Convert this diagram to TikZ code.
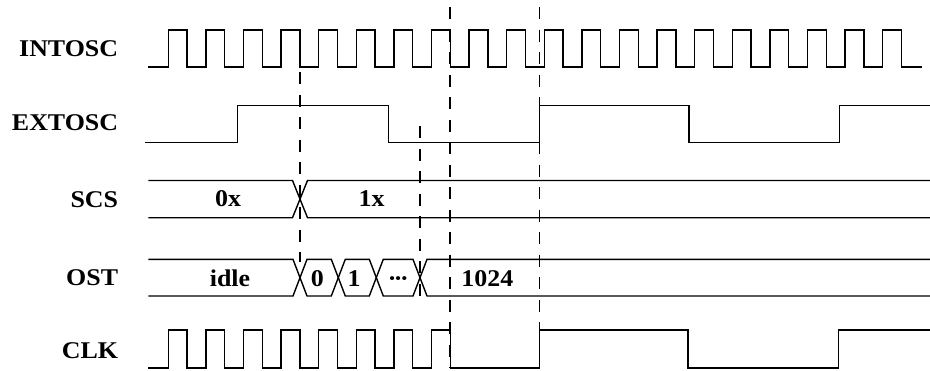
\documentclass[tikz,border=0pt]{standalone}
\usepackage{fontspec}
\setmainfont[FakeStretch=1.08]{Liberation Serif}
\begin{document}
\begin{tikzpicture}[x=1pt,y=-1pt,
  wave/.style={line width=1.4pt, line join=miter},
  guide/.style={line width=1.3pt, dash pattern=on 12pt off 10.5pt},
  sig/.style={anchor=base east, inner sep=0pt, font=\fontsize{24}{24}\selectfont\bfseries},
  val/.style={anchor=base, inner sep=0pt, font=\fontsize{24}{24}\selectfont\bfseries}]
\useasboundingbox (0,0) rectangle (930,370);
% signal names
\node[sig] (lintosc) at (118.3,56.7) {INTOSC};
\node[sig] (lextosc) at (118.3,130.7) {EXTOSC};
\node[sig] (lscs) at (118.3,207.3) {SCS};
\node[sig] (lost) at (118.3,285) {OST};
\node[sig] (lclk) at (118.3,358.3) {CLK};
% guides
\draw[guide] (300,72) -- (300,262);
\draw[guide] (450,7) -- (450,368);
\draw[guide] (539.3,7) -- (539.3,332);
\draw[guide] (420,126) -- (420,300);
% INTOSC
\draw[wave] (148.3,67) foreach \k in {0,...,19} {
  -- ({168.3+37.6*\k},67) -- ({168.3+37.6*\k},30)
  -- ({187.1+37.6*\k},30) -- ({187.1+37.6*\k},67) } -- (921.7,67);
% EXTOSC
\draw[wave] (145,142.7) -- (237.3,142.7) -- (237.3,105.3) -- (388.3,105.3)
  -- (388.3,142.7) -- (539.3,142.7) -- (539.3,105.3) -- (689,105.3)
  -- (689,142.7) -- (839.5,142.7) -- (839.5,105.3) -- (930,105.3);
% SCS
\draw[wave] (148.3,180.5) -- (292.5,180.5) -- (307.5,217.7) -- (930,217.7);
\draw[wave] (148.3,217.7) -- (292.5,217.7) -- (307.5,180.5) -- (930,180.5);
\node[val] (v0x) at (228,206.7) {0x};
\node[val] (v1x) at (371.7,206.7) {1x};
% OST
\draw[wave] (148.3,259.3) -- (293,259.3) -- (307,296) -- (331.3,296) -- (345.3,259.3)
  -- (369.3,259.3) -- (383.3,296) -- (413,296) -- (427,259.3) -- (930,259.3);
\draw[wave] (148.3,296) -- (293,296) -- (307,259.3) -- (331.3,259.3) -- (345.3,296)
  -- (369.3,296) -- (383.3,259.3) -- (413,259.3) -- (427,296) -- (930,296);
\node[val] (vidle) at (230,286.5) {idle};
\node[val] (vzero) at (317.3,286.5) {0};
\node[val] (vone) at (354,286.5) {1};
\node[val] (vdots) at (398.3,286.5) {·\kern-2.5pt·\kern-2.5pt·};
\node[val] (v1024) at (487.3,286.5) {1024};
% CLK
\draw[wave] (148.3,368) foreach \k in {0,...,7} {
  -- ({168.3+37.6*\k},368) -- ({168.3+37.6*\k},330)
  -- ({187.1+37.6*\k},330) -- ({187.1+37.6*\k},368) }
  -- (539.3,368) -- (539.3,330) -- (688,330) -- (688,368)
  -- (838.5,368) -- (838.5,330) -- (930,330);
\end{tikzpicture}
\end{document}
